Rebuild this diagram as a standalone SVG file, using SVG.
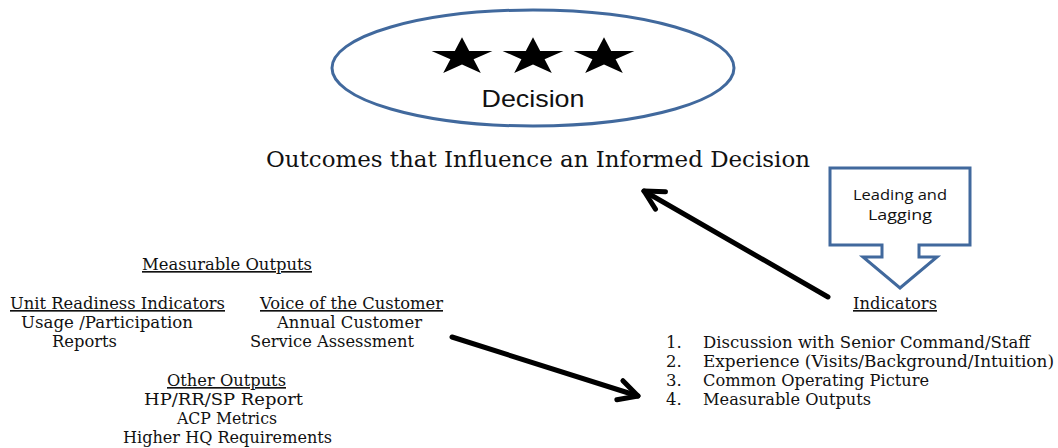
<svg xmlns="http://www.w3.org/2000/svg" width="1058" height="448" viewBox="0 0 1058 448">
<style>
.serif{font-family:"DejaVu Serif","Liberation Serif",serif;font-size:16.5px;fill:#111}
.title{font-family:"DejaVu Serif","Liberation Serif",serif;font-size:23px;fill:#111}
.u{text-decoration:underline}
.mid{text-anchor:middle}
.blue{fill:#fff;stroke:#41699d;stroke-width:3}
.arrow{stroke:#000;stroke-width:5;stroke-linecap:round;fill:none}
</style>
<defs>
<path id="star" d="M0,-19.8 L7.2,-6.1 L30.4,-6.1 L11.6,2.3 L18.8,16 L0,7.6 L-18.8,16 L-11.6,2.3 L-30.4,-6.1 L-7.2,-6.1 Z" fill="#000"/>
<marker id="ah" markerUnits="userSpaceOnUse" viewBox="-26 -16 32 32" markerWidth="32" markerHeight="32" refX="0" refY="0" orient="auto" overflow="visible">
<path d="M-19,-10 L0,0 L-19,10" fill="none" stroke="#000" stroke-width="5" stroke-linecap="round" stroke-linejoin="round"/>
</marker>
</defs>
<rect width="1058" height="448" fill="#fff"/>
<g id="decision">
<ellipse cx="533" cy="68" rx="201" ry="58" class="blue"/>
<use href="#star" x="462" y="57"/>
<use href="#star" x="533" y="57"/>
<use href="#star" x="604" y="57"/>
<text x="533" y="107" text-anchor="middle" font-family="Liberation Sans,Arial,sans-serif" font-size="24" fill="#111" textLength="103" lengthAdjust="spacingAndGlyphs">Decision</text>
</g>
<g id="outcomes">
<text x="266" y="167" class="title" textLength="544" lengthAdjust="spacingAndGlyphs">Outcomes that Influence an Informed Decision</text>
</g>
<g id="leading-lagging">
<path d="M830,168 H970 V245 H919 V257 H937 L900,288 L863,257 H882 V245 H830 Z" class="blue" stroke-linejoin="miter"/>
<text x="900" y="200" text-anchor="middle" font-family="Open Sans,Liberation Sans,sans-serif" font-size="14" fill="#111" textLength="94" lengthAdjust="spacingAndGlyphs">Leading and</text>
<text x="900" y="220" text-anchor="middle" font-family="Open Sans,Liberation Sans,sans-serif" font-size="14" fill="#111" textLength="64" lengthAdjust="spacingAndGlyphs">Lagging</text>
</g>
<g id="measurable-outputs">
<text x="142" y="270" class="serif u" textLength="170" lengthAdjust="spacingAndGlyphs">Measurable Outputs</text>
<text x="10" y="309" class="serif u" textLength="215" lengthAdjust="spacingAndGlyphs">Unit Readiness Indicators</text>
<text x="21" y="328" class="serif" textLength="172" lengthAdjust="spacingAndGlyphs">Usage /Participation</text>
<text x="52" y="347" class="serif" textLength="65" lengthAdjust="spacingAndGlyphs">Reports</text>
<text x="260" y="309" class="serif u" textLength="183" lengthAdjust="spacingAndGlyphs">Voice of the Customer</text>
<text x="277" y="328" class="serif" textLength="145" lengthAdjust="spacingAndGlyphs">Annual Customer</text>
<text x="250" y="347" class="serif" textLength="164" lengthAdjust="spacingAndGlyphs">Service Assessment</text>
<text x="167" y="386" class="serif u" textLength="119" lengthAdjust="spacingAndGlyphs">Other Outputs</text>
<text x="144" y="405" class="serif" textLength="159" lengthAdjust="spacingAndGlyphs">HP/RR/SP Report</text>
<text x="177" y="424" class="serif" textLength="100" lengthAdjust="spacingAndGlyphs">ACP Metrics</text>
<text x="123" y="443" class="serif" textLength="209" lengthAdjust="spacingAndGlyphs">Higher HQ Requirements</text>
</g>
<g id="indicators">
<text x="853" y="309" class="serif u" textLength="84" lengthAdjust="spacingAndGlyphs">Indicators</text>
<text x="666" y="348" class="serif">1.</text>
<text x="703" y="348" class="serif" textLength="327" lengthAdjust="spacingAndGlyphs">Discussion with Senior Command/Staff</text>
<text x="666" y="367" class="serif">2.</text>
<text x="703" y="367" class="serif" textLength="351" lengthAdjust="spacingAndGlyphs">Experience (Visits/Background/Intuition)</text>
<text x="666" y="386" class="serif">3.</text>
<text x="703" y="386" class="serif" textLength="226" lengthAdjust="spacingAndGlyphs">Common Operating Picture</text>
<text x="666" y="405" class="serif">4.</text>
<text x="703" y="405" class="serif" textLength="168" lengthAdjust="spacingAndGlyphs">Measurable Outputs</text>
</g>
<g id="connectors">
<line x1="828" y1="297" x2="644" y2="191" class="arrow" marker-end="url(#ah)"/>
<line x1="452" y1="337" x2="638" y2="396" class="arrow" marker-end="url(#ah)"/>
</g>
</svg>
